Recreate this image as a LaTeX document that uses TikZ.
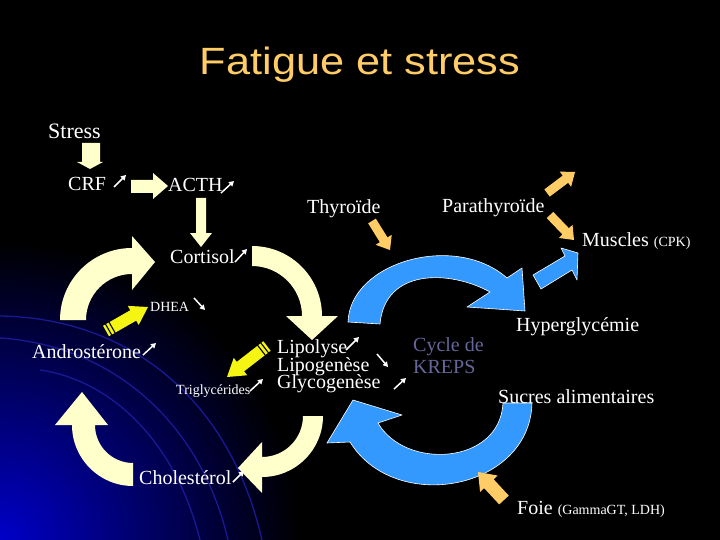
\documentclass[tikz,border=0pt]{standalone}
\usepackage{fontspec}
\setmainfont{Liberation Serif}
\newfontfamily\titlefont{Liberation Sans}
\usepackage{graphicx}
\usetikzlibrary{calc,arrows.meta}
\definecolor{cream}{RGB}{255,255,204}
\definecolor{orangeA}{RGB}{255,204,102}
\definecolor{blueA}{RGB}{51,153,255}
\definecolor{yellowA}{RGB}{245,245,20}
\definecolor{titlecol}{RGB}{255,204,102}
\definecolor{krepscol}{RGB}{102,102,153}
\definecolor{bgblue}{RGB}{0,0,200}
\definecolor{arcblue}{RGB}{25,25,150}
\newcommand\blk[6]{%
  \coordinate (bkA) at (#2);
  \coordinate (bkB) at (#3);
  \coordinate (bkH) at ($(bkB)!#6!(bkA)$);
  \fill[#1] ($(bkA)!#4!90:(bkB)$) -- ($(bkH)!#4!90:(bkB)$) -- ($(bkH)!#5!90:(bkB)$) -- (bkB) -- ($(bkH)!#5!-90:(bkB)$) -- ($(bkH)!#4!-90:(bkB)$) -- ($(bkA)!#4!-90:(bkB)$) -- cycle;}
\newcommand\stripe[1]{%
  \coordinate (bkS) at ($(bkA)!#1!(bkB)$);
  \draw[black, line width=1.1pt] ($(bkS)!7pt!90:(bkB)$) -- ($(bkS)!7pt!-90:(bkB)$);}
\begin{document}
\begin{tikzpicture}[x=1pt,y=-1pt,
  lbl/.style={text=white, inner sep=0, anchor=base west, font=\fontsize{20}{24}\selectfont},
  small/.style={lbl, font=\fontsize{14}{17}\selectfont},
  warr/.style={white, line width=1.5pt, -{Triangle[length=5pt,width=5.5pt]}},
  creamfill/.style={fill=cream},
  bluefill/.style={fill=blueA, draw=white, line width=0.6pt, line join=round}]
\useasboundingbox (0,0) rectangle (720,540);
\fill[black] (0,0) rectangle (720,540);
\begin{scope}
  \clip (0,0) rectangle (720,540);
  \shade[inner color=bgblue, outer color=black] (0,540) circle (300);
  \draw[arcblue, line width=1.3pt] (0,316) .. controls (130,318) and (230,400) .. (262,540);
  \draw[arcblue, line width=1.3pt] (0,338) .. controls (110,345) and (200,420) .. (228,540);
  \draw[arcblue, line width=1.3pt] (40,370) .. controls (110,380) and (175,440) .. (200,540);
\end{scope}

% title
\node[text=titlecol, inner sep=0, anchor=base, font=\titlefont\fontsize{38}{44}\selectfont] (title) at (360,75) {\scalebox{1.14}[1]{Fatigue et stress}};

% straight cream arrows
\fill[creamfill] (82,143) -- (100,143) -- (100,162) -- (103,162) -- (90,169) -- (77,162) -- (82,162) -- cycle;
\fill[creamfill] (131,180) -- (153,180) -- (153,173) -- (168,186) -- (153,199) -- (153,193) -- (131,193) -- cycle;
\fill[creamfill] (196,198) -- (206,198) -- (206,233) -- (212,233) -- (201,247) -- (190,233) -- (196,233) -- cycle;

% curved cream arrows
\fill[creamfill] (60,320) arc[start angle=180,end angle=270,radius=72] -- (132,236) -- (155,262) -- (132,290) -- (132,274) arc[start angle=270,end angle=180,radius=46] -- cycle;
\fill[creamfill] (252,246) arc[start angle=270,end angle=360,radius=70] -- (338,316) -- (312,340) -- (286,316) -- (302,316) arc[start angle=0,end angle=-90,radius=50] -- cycle;
\fill[creamfill] (323,416) arc[start angle=0,end angle=90,radius=61] -- (262,493) -- (238,468) -- (262,442) -- (262,457) arc[start angle=90,end angle=0,radius=41] -- cycle;
\fill[creamfill] (133,486) arc[start angle=90,end angle=180,radius=61] -- (55,425) -- (82,392) -- (108,425) -- (95,425) arc[start angle=180,end angle=90,radius=38] -- cycle;

% blue arrows
\path[bluefill] (348,322) .. controls (350,262) and (455,232) .. (507,278) -- (522,268) -- (525,311) -- (467,307) -- (490,292) .. controls (450,270) and (385,268) .. (380,324) -- cycle;
\path[bluefill] (533,275) -- (565,256) -- (561,248) -- (578,253) -- (577,280) -- (572,270) -- (541,289) -- cycle;
\path[bluefill] (532,403) .. controls (530,490) and (395,515) .. (350,442) -- (327,443) -- (353,400) -- (402,415) -- (378,423) .. controls (405,470) and (500,465) .. (503,403) -- cycle;

% orange arrows
\blk{orangeA}{372,221}{390,250}{4.5pt}{9.5pt}{12pt}
\blk{orangeA}{547,193}{575,172}{4.5pt}{9.5pt}{12pt}
\blk{orangeA}{550,215}{574,240}{4.5pt}{9.5pt}{12pt}
\blk{orangeA}{504,500}{478,472}{6.5pt}{12pt}{16pt}

% yellow striped arrows
\blk{yellowA}{106,331}{148,307}{6pt}{11pt}{17pt}
\stripe{3pt}\stripe{7pt}
\blk{yellowA}{267,346}{227,377}{6pt}{11pt}{17pt}
\stripe{3pt}\stripe{7pt}

% labels
\node[lbl, font=\fontsize{22}{26}\selectfont] (stress) at (48,139) {Stress};
\node[lbl] (crf) at (68,191) {CRF};
\node[lbl] (acth) at (168,192) {ACTH};
\node[lbl] (cortisol) at (170,263) {Cortisol};
\node[lbl] (thyro) at (307,214) {Thyroïde};
\node[lbl] (parathyro) at (442,213) {Parathyroïde};
\node[lbl] (muscles) at (582,246) {Muscles {\fontsize{14}{17}\selectfont(CPK)}};
\node[small] (dhea) at (150,311) {DHEA};
\node[lbl] (andro) at (32,358) {Androstérone};
\node[small] (trigly) at (176,394) {Triglycérides};
\node[lbl] (lipolyse) at (277,353) {Lipolyse};
\node[lbl] (lipogen) at (277,371) {Lipogenèse};
\node[lbl] (glycogen) at (277,388) {Glycogenèse};
\node[lbl, text=krepscol] (cycle) at (413,351) {Cycle de};
\node[lbl, text=krepscol] (kreps) at (413,373) {KREPS};
\node[lbl] (hyper) at (516,331) {Hyperglycémie};
\node[lbl] (sucres) at (498,403) {Sucres alimentaires};
\node[lbl] (foie) at (517,514) {Foie {\fontsize{14}{17}\selectfont(GammaGT, LDH)}};
\node[lbl] (chol) at (139,484) {Cholestérol};

% small white arrows
\draw[warr] (114,187) -- (126,175);
\draw[warr] (221,193) -- (234,181);
\draw[warr] (235,262) -- (247,249);
\draw[warr] (194,298) -- (205,310);
\draw[warr] (143,355) -- (156,343);
\draw[warr] (250,391) -- (263,379);
\draw[warr] (346,350) -- (359,337);
\draw[warr] (377,354) -- (388,367);
\draw[warr] (394,389) -- (406,378);
\draw[warr] (233,482) -- (244,471);
\end{tikzpicture}
\end{document}
